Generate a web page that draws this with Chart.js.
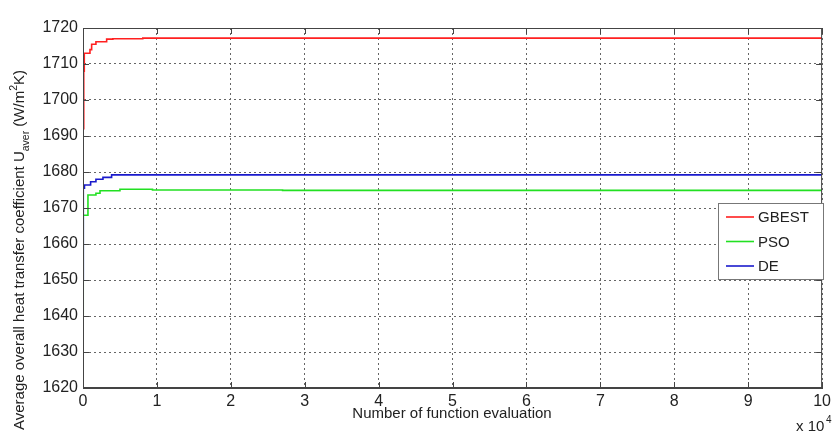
<!DOCTYPE html>
<html>
<head>
<meta charset="utf-8">
<script src="https://cdn.jsdelivr.net/npm/chart.js@4/dist/chart.umd.min.js"></script>
<style>
  html, body { margin: 0; padding: 0; background: #fff; }
  #wrap { width: 835px; height: 436px; }
</style>
</head>
<body>
<div id="wrap"><canvas id="c" width="835" height="436"></canvas></div>
<script>
// ── Data ─────────────────────────────────────────────────────────
const seriesNames = ['GBEST', 'PSO', 'DE'];

const gbestEvals  = [0, 100, 175, 943, 1170, 1750, 3200, 4040, 8090, 11950, 100000];
const gbestValues = [1685, 1692, 1708, 1713, 1714, 1715.5, 1716.2, 1716.9, 1717.0, 1717.2, 1717.2];

const psoEvals  = [0, 30, 670, 1750, 2300, 5000, 9400, 27000, 100000];
const psoValues = [1625, 1640, 1668, 1673.6, 1674.1, 1674.8, 1675.2, 1675.0, 1674.9];

const deEvals  = [0, 40, 200, 1030, 1750, 2700, 3870, 5000, 100000];
const deValues = [1641, 1650, 1675.5, 1676.4, 1677.3, 1678.0, 1678.5, 1679.2, 1679.2];

const xTicks = [0, 1, 2, 3, 4, 5, 6, 7, 8, 9, 10];              // × 10^4
const yTicks = [1620, 1630, 1640, 1650, 1660, 1670, 1680, 1690, 1700, 1710, 1720];

const FONT = 'Liberation Sans, Arial, sans-serif';

// ── Helpers ──────────────────────────────────────────────────────
function _pts(xs, ys) { return xs.map((x, i) => ({ x, y: ys[i] })); }

function _ds(label, xs, ys, color) {
  return { label, data: _pts(xs, ys), borderColor: color, backgroundColor: color,
           borderWidth: 1.6, pointRadius: 0, stepped: 'after', fill: false };
}

// frame, axis titles, exponent label and legend box
const decorPlugin = {
  id: 'decor',
  afterDraw(chart) {
    const { ctx, chartArea: a } = chart;
    ctx.save();
    ctx.strokeStyle = '#444';
    ctx.lineWidth = 1;
    ctx.strokeRect(a.left + 0.5, a.top + 0.5, a.right - a.left - 1, a.bottom - a.top - 1);

    // small inward ticks
    const xs = chart.scales.x, ys = chart.scales.y;
    ctx.beginPath();
    xTicks.forEach(t => {
      const px = Math.round(xs.getPixelForValue(t * 1e4)) + 0.5;
      ctx.moveTo(px, a.bottom); ctx.lineTo(px, a.bottom - 6);
      ctx.moveTo(px, a.top); ctx.lineTo(px, a.top + 6);
    });
    yTicks.forEach(t => {
      const py = Math.round(ys.getPixelForValue(t)) + 0.5;
      ctx.moveTo(a.left, py); ctx.lineTo(a.left + 6, py);
      ctx.moveTo(a.right, py); ctx.lineTo(a.right - 6, py);
    });
    ctx.stroke();

    ctx.fillStyle = '#222';
    ctx.textBaseline = 'alphabetic';

    // x title
    ctx.font = '15px ' + FONT;
    ctx.textAlign = 'center';
    ctx.fillText('Number of function evaluation', 452, 418);

    // x 10^4
    ctx.textAlign = 'left';
    ctx.font = '15px ' + FONT;
    ctx.fillText('x 10', 796, 431);
    ctx.font = '10px ' + FONT;
    ctx.fillText('4', 826, 423);

    // y title (rotated, with sub/superscript)
    ctx.save();
    ctx.translate(24, 430);
    ctx.rotate(-Math.PI / 2);
    let x = 0;
    const part = (txt, size, dy) => {
      ctx.font = size + 'px ' + FONT;
      ctx.fillText(txt, x, dy);
      x += ctx.measureText(txt).width;
    };
    part('Average overall heat transfer coefficient U', 15, 0);
    part('aver', 10.5, 5);
    part(' (W/m', 15, 0);
    part('2', 10.5, -7);
    part('K)', 15, 0);
    ctx.restore();

    // legend
    const lx = 718, ly = 203, lw = 105, lh = 76;
    ctx.fillStyle = '#fff';
    ctx.fillRect(lx, ly, lw, lh);
    ctx.strokeStyle = '#777';
    ctx.strokeRect(lx + 0.5, ly + 0.5, lw, lh);
    ctx.font = '15px ' + FONT;
    ctx.textBaseline = 'middle';
    chart.data.datasets.forEach((d, i) => {
      const y = ly + 14 + i * 24.5;
      ctx.strokeStyle = d.borderColor;
      ctx.lineWidth = 1.6;
      ctx.beginPath(); ctx.moveTo(lx + 8, y); ctx.lineTo(lx + 36, y); ctx.stroke();
      ctx.fillStyle = '#222';
      ctx.fillText(d.label, lx + 40, y + 1);
    });
    ctx.restore();
  }
};

// ── Chart ────────────────────────────────────────────────────────
new Chart(document.getElementById('c'), {
  type: 'line',
  data: {
    datasets: [
      _ds(seriesNames[0], gbestEvals, gbestValues, '#ff2020'),
      _ds(seriesNames[1], psoEvals, psoValues, '#22e022'),
      _ds(seriesNames[2], deEvals, deValues, '#1a1acc')
    ]
  },
  options: {
    responsive: false,
    animation: false,
    layout: { padding: { top: 28, right: 10, left: 0, bottom: 0 } },
    plugins: { legend: { display: false }, tooltip: { enabled: false } },
    scales: {
      x: {
        type: 'linear', min: 0, max: 100000,
        afterBuildTicks(s) { s.ticks = xTicks.map(v => ({ value: v * 1e4 })); },
        afterFit(s) { s.height = 48; },
        ticks: { color: '#222', font: { family: FONT, size: 16 }, padding: 4,
                 maxRotation: 0, callback: v => String(v / 1e4) },
        grid: { color: '#666', drawTicks: false, lineWidth: 1 },
        border: { display: true, color: '#444', dash: [2, 3] }
      },
      y: {
        type: 'linear', min: 1620, max: 1720,
        afterBuildTicks(s) { s.ticks = yTicks.map(v => ({ value: v })); },
        afterFit(s) { s.width = 83; },
        ticks: { color: '#222', font: { family: FONT, size: 16 }, padding: 5,
                 callback: v => String(v) },
        grid: { color: '#666', drawTicks: false, lineWidth: 1 },
        border: { display: true, color: '#444', dash: [2, 3] }
      }
    }
  },
  plugins: [decorPlugin]
});
</script>
</body>
</html>
